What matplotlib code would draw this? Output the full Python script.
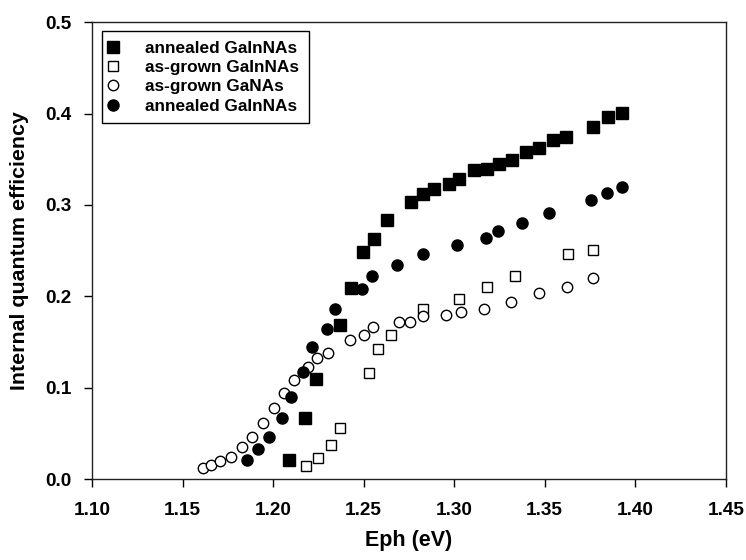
import numpy as np
import matplotlib
matplotlib.use("Agg")
import matplotlib.pyplot as plt

plt.rcParams['font.family'] = ['Liberation Sans', 'DejaVu Sans']
plt.rcParams['font.weight'] = 'bold'

# annealed GaInNAs (filled squares)
ann_sq_x = [1.2086, 1.2178, 1.2237, 1.2370, 1.2429, 1.2498, 1.2559, 1.2628, 1.2760,
            1.2830, 1.2889, 1.2970, 1.3029, 1.3110, 1.3180, 1.3250, 1.3320, 1.3399,
            1.3469, 1.3548, 1.3618, 1.3769, 1.3848, 1.3929]
ann_sq_y = [0.0213, 0.0668, 0.1094, 0.1687, 0.2094, 0.2487, 0.2633, 0.2836, 0.3029,
            0.3120, 0.3171, 0.3234, 0.3288, 0.3379, 0.3393, 0.3448, 0.3496, 0.3583,
            0.3619, 0.3714, 0.3747, 0.3852, 0.3957, 0.4009]

# as-grown GaInNAs (open squares)
grown_sq_x = [1.2180, 1.2247, 1.2320, 1.2371, 1.2530, 1.2578, 1.2650, 1.2830,
              1.3029, 1.3180, 1.3338, 1.3629, 1.3769]
grown_sq_y = [0.0151, 0.0238, 0.0377, 0.0566, 0.1159, 0.1425, 0.1578, 0.1858,
              0.1971, 0.2109, 0.2229, 0.2462, 0.2509]

# as-grown GaNAs (open circles)
grown_ci_x = [1.1615, 1.1657, 1.1707, 1.1766, 1.1827, 1.1882, 1.1946, 1.2007,
              1.2062, 1.2116, 1.2193, 1.2244, 1.2305, 1.2425, 1.2504, 1.2554,
              1.2697, 1.2756, 1.2826, 1.2955, 1.3038, 1.3165, 1.3316, 1.3467,
              1.3625, 1.3765]
grown_ci_y = [0.0129, 0.0158, 0.0202, 0.0242, 0.0358, 0.0467, 0.0620, 0.0784,
              0.0948, 0.1086, 0.1231, 0.1330, 0.1384, 0.1523, 0.1581, 0.1662,
              0.1716, 0.1723, 0.1785, 0.1796, 0.1832, 0.1865, 0.1945, 0.2036,
              0.2105, 0.2203]

# annealed GaInNAs (filled circles)
ann_ci_x = [1.1856, 1.1915, 1.1976, 1.2048, 1.2097, 1.2167, 1.2217, 1.2296, 1.2344,
            1.2490, 1.2548, 1.2686, 1.2826, 1.3016, 1.3176, 1.3244, 1.3377, 1.3526,
            1.3754, 1.3844, 1.3927]
ann_ci_y = [0.0213, 0.0336, 0.0467, 0.0668, 0.0904, 0.1177, 0.1443, 0.1643, 0.1858,
            0.2087, 0.2222, 0.2345, 0.2465, 0.2568, 0.2644, 0.2713, 0.2803, 0.2913,
            0.3055, 0.3135, 0.3193]

labels = ["annealed GaInNAs", "as-grown GaInNAs", "as-grown GaNAs", "annealed GaInNAs"]

xticks = np.arange(1.10, 1.451, 0.05)
yticks = np.arange(0.0, 0.51, 0.1)

fig = plt.figure(figsize=(7.46, 5.6), dpi=100)
ax = fig.add_axes([0.1233, 0.1438, 0.8495, 0.8169])

ax.plot(ann_sq_x, ann_sq_y, 's', ms=8, mfc='black', mec='black', label=labels[0])
ax.plot(grown_sq_x, grown_sq_y, 's', ms=7, mfc='white', mec='black', mew=1.0, label=labels[1])
ax.plot(grown_ci_x, grown_ci_y, 'o', ms=7.5, mfc='white', mec='black', mew=1.0, label=labels[2])
ax.plot(ann_ci_x, ann_ci_y, 'o', ms=8, mfc='black', mec='black', label=labels[3])

ax.set_xlim(1.10, 1.45)
ax.set_ylim(0.0, 0.5)
ax.set_xticks(xticks)
ax.set_yticks(yticks)
ax.set_xticklabels([f"{v:.2f}" for v in xticks])
ax.set_yticklabels([f"{v:.1f}" for v in yticks])
ax.tick_params(axis='x', direction='out', length=6, width=1, pad=10, labelsize=13.7)
ax.tick_params(axis='y', direction='out', length=6, width=1, pad=9, labelsize=13.7)
for s in ax.spines.values():
    s.set_linewidth(1.0)
    s.set_color('#222222')

ax.set_xlabel("Eph (eV)", fontsize=15.5, fontweight='bold', labelpad=8)
ax.set_ylabel("Internal quantum efficiency", fontsize=15.4, fontweight='bold', labelpad=11)

leg = ax.legend(loc='upper left', bbox_to_anchor=(0.0158, 0.980), borderaxespad=0,
                fontsize=12.4, frameon=True, fancybox=False, edgecolor='black',
                framealpha=1, handletextpad=1.75, labelspacing=0.25, borderpad=0.55,
                handlelength=0.2)
leg.get_frame().set_linewidth(1.0)

fig.savefig("out.png", dpi=100)
